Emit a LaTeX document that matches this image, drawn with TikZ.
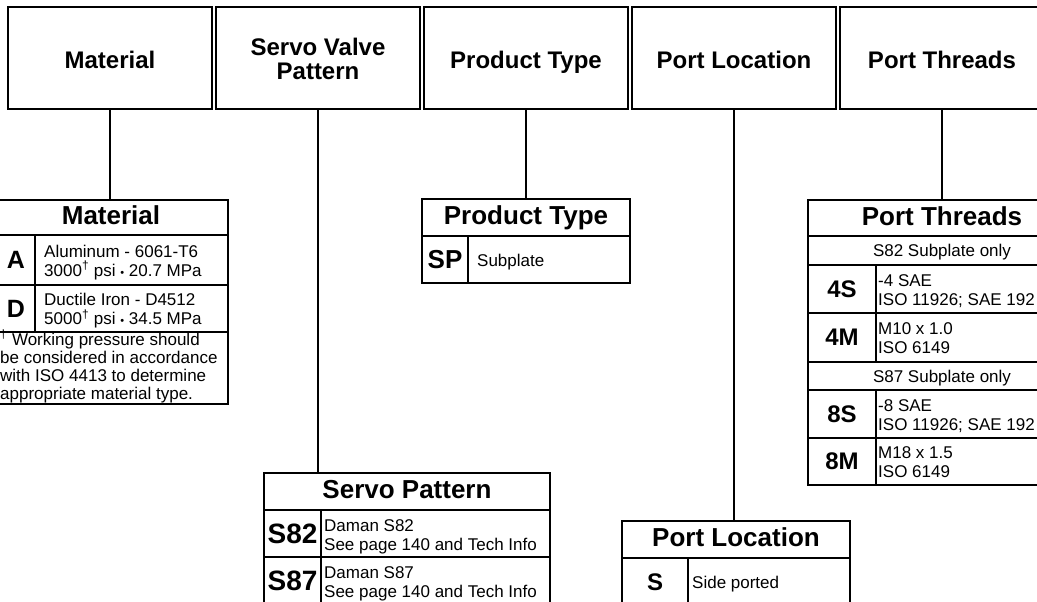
\documentclass[tikz,border=0pt]{standalone}
\usepackage{fontspec}
\setmainfont{Liberation Sans}
\newcommand{\dg}{\textsuperscript{†}}
\newcommand{\bul}{{\fontsize{11}{11}\selectfont •}}

\begin{document}
\begin{tikzpicture}[x=1pt,y=-1pt,
  hdr/.style={draw,line width=2.4pt,minimum width=204pt,minimum height=102pt,align=center,inner sep=0pt,text height=21.2pt,text depth=0pt,font=\fontsize{24}{24.5}\selectfont\bfseries},
  ttl/.style={minimum height=36pt,inner sep=0pt,outer sep=0pt,text height=14.7pt,text depth=0pt,font=\fontsize{26}{28}\selectfont\bfseries},
  code/.style={inner sep=0pt,font=\fontsize{24}{26}\selectfont\bfseries},
  desc/.style={anchor=base west,inner sep=0pt,align=left,font=\fontsize{17}{19}\selectfont},
  note/.style={inner sep=0pt,text height=12.2pt,text depth=0pt,font=\fontsize{17}{19}\selectfont},
  tbl/.style={line width=2pt},
  wire/.style={line width=2pt}]
\useasboundingbox (0,0) rectangle (1037,602);
\clip (0,0) rectangle (1037,602);

% header row
\node[hdr] (hmat) at (110,58) {Material};
\node[hdr,text height=44pt] (hsrv) at (318,58) {Servo Valve\\Pattern};
\node[hdr] (htyp) at (526,58) {Product Type};
\node[hdr] (hloc) at (734,58) {Port Location};
\node[hdr] (hthr) at (942,58) {Port Threads};

% material
\draw[tbl] (-3,200) rectangle (228,404);
\draw[tbl] (-3,235) -- (228,235);
\draw[tbl] (-3,285) -- (228,285);
\draw[tbl] (-3,332) -- (228,332);
\draw[tbl] (35,235) -- (35,332);
\node[ttl] (tmat) at (111,217.5) {Material};
\node[code,font=\fontsize{25}{27}\selectfont\bfseries] (ca) at (16,260) {A};
\node[code,font=\fontsize{25}{27}\selectfont\bfseries] (cd) at (16,308.5) {D};
\node[desc] (da) at (44,276) {Aluminum - 6061-T6\\3000\dg{} psi \bul{} 20.7 MPa};
\node[desc] (dd) at (44,324.5) {Ductile Iron - D4512\\5000\dg{} psi \bul{} 34.5 MPa};
\node[desc,font=\fontsize{17}{18}\selectfont] (fmat) at (0,399) {\dg{} Working pressure should\\be considered in accordance\\with ISO 4413 to determine\\appropriate material type.};

% product type
\draw[tbl] (422,199) rectangle (630,283);
\draw[tbl] (422,236) -- (630,236);
\draw[tbl] (468,236) -- (468,283);
\node[ttl] (ttyp) at (526,217.5) {Product Type};
\node[code,font=\fontsize{26}{28}\selectfont\bfseries] (csp) at (445,259.5) {SP};
\node[desc] (dsp) at (477,266) {Subplate};

% servo pattern
\draw[tbl] (264,473) rectangle (550,620);
\draw[tbl] (264,510) -- (550,510);
\draw[tbl] (264,557) -- (550,557);
\draw[tbl] (321,510) -- (321,620);
\node[ttl] (tsrv) at (407,491.5) {Servo Pattern};
\node[code,font=\fontsize{28}{30}\selectfont\bfseries] (c82) at (292.5,533.5) {S82};
\node[code,font=\fontsize{28}{30}\selectfont\bfseries] (c87) at (292.5,580.5) {S87};
\node[desc] (d82) at (324,550) {Daman S82\\See page 140 and Tech Info};
\node[desc] (d87) at (324,597) {Daman S87\\See page 140 and Tech Info};

% port location
\draw[tbl] (622,521) rectangle (850,620);
\draw[tbl] (622,558) -- (850,558);
\draw[tbl] (688,558) -- (688,620);
\node[ttl] (tloc) at (736,539.5) {Port Location};
\node[code] (cs) at (655,582) {S};
\node[desc] (ds) at (692,588) {Side ported};

% port threads
\draw[tbl] (808,200) rectangle (1076,485);
\foreach \yy in {236,265,313,362,390,438}
  \draw[tbl] (808,\yy) -- (1076,\yy);
\draw[tbl] (876,265) -- (876,362);
\draw[tbl] (876,390) -- (876,485);
\node[ttl] (tthr) at (942,218) {Port Threads};
\node[note] (n82) at (942,250.5) {S82 Subplate only};
\node[note] (n87) at (942,376) {S87 Subplate only};
\node[code] (c4s) at (842,289) {4S};
\node[code] (c4m) at (842,337.5) {4M};
\node[code] (c8s) at (842,414) {8S};
\node[code] (c8m) at (842,461.5) {8M};
\node[desc] (d4s) at (878,305) {-4 SAE\\ISO 11926; SAE 192};
\node[desc] (d4m) at (878,353.5) {M10 x 1.0\\ISO 6149};
\node[desc] (d8s) at (878,430) {-8 SAE\\ISO 11926; SAE 192};
\node[desc] (d8m) at (878,477.5) {M18 x 1.5\\ISO 6149};

% connectors
\draw[wire] (hmat.south) -- (hmat.south |- tmat.north);
\draw[wire] (hsrv.south) -- (hsrv.south |- tsrv.north);
\draw[wire] (htyp.south) -- (htyp.south |- ttyp.north);
\draw[wire] (hloc.south) -- (hloc.south |- tloc.north);
\draw[wire] (hthr.south) -- (hthr.south |- tthr.north);
\end{tikzpicture}
\end{document}
